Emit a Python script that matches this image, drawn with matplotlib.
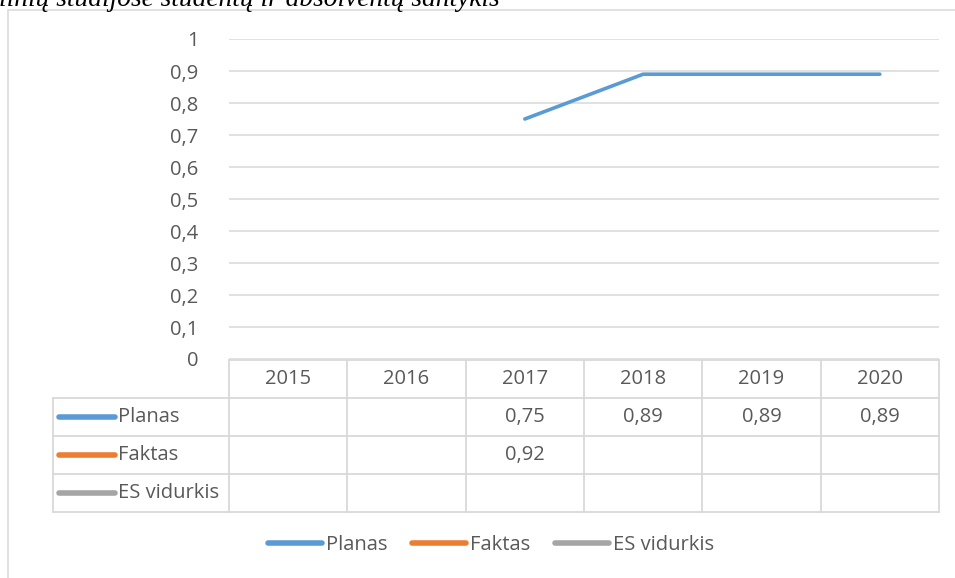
import matplotlib
matplotlib.use("Agg")
import matplotlib.pyplot as plt
import numpy as np
from matplotlib.lines import Line2D
from matplotlib.patches import Rectangle

# --- duomenys ---
years = ["2015", "2016", "2017", "2018", "2019", "2020"]
planas = [np.nan, np.nan, 0.75, 0.89, 0.89, 0.89]
faktas = [np.nan, np.nan, 0.92, np.nan, np.nan, np.nan]
es_vidurkis = [np.nan, np.nan, np.nan, np.nan, np.nan, np.nan]
series_names = ["Planas", "Faktas", "ES vidurkis"]
series_colors = ["#5B9BD5", "#ED7D31", "#A5A5A5"]
title_text = "linių studijose studentų ir absolventų santykis"

TXT = "#595959"
GRID = "#D9D9D9"
FS = 14.5
plt.rcParams['font.family'] = ['Open Sans', 'DejaVu Sans']

W, H = 955, 578
def fx(px): return px / W
def fy(py): return 1 - py / H

fig = plt.figure(figsize=(W / 100, H / 100), dpi=100)

# rėmelis aplink diagramą
fig.patches.append(Rectangle((fx(8), fy(700)), fx(1000), fy(10) - fy(700),
                             transform=fig.transFigure, fill=False,
                             edgecolor=GRID, lw=1.1))

# pavadinimas (viršus nukirptas, kaip originale)
fig.text(fx(-1), fy(6), title_text, family='Liberation Serif', style='italic',
         fontsize=19.7, ha='left', va='baseline', color='black')

# --- linijinė diagrama ---
ax = fig.add_axes([fx(229), fy(359), fx(939) - fx(229), fy(39) - fy(359)])
x = np.arange(len(years))
ax.set_xlim(-0.5, len(years) - 0.5)
ax.set_ylim(0, 1)
yt = np.round(np.arange(0, 1.01, 0.1), 1)
ax.set_yticks(yt)
ax.set_yticklabels([f"{v:g}".replace('.', ',') for v in yt], fontsize=FS, color=TXT)
ax.set_xticks([])
ax.tick_params(axis='y', length=0, pad=22)
ax.grid(axis='y', color=GRID, lw=1.1)
for s in ax.spines.values():
    s.set_visible(False)

for vals, c in zip([planas, faktas, es_vidurkis], series_colors):
    ax.plot(x, vals, color=c, lw=2.6, solid_capstyle='round')

# --- duomenų lentelė ---
tab = fig.add_axes([fx(229), fy(512), fx(939) - fx(229), fy(360) - fy(512)])
tab.set_xlim(-0.5, len(years) - 0.5)
tab.set_ylim(4, 0)
tab.axis('off')
col_w = (939 - 229) / len(years)
x_left = -0.5 - (229 - 53) / col_w

def px2x(px):
    return (px - 229) / col_w - 0.5

lk = dict(color=GRID, lw=1.3, clip_on=False)
tab.plot([-0.5, 5.5], [0, 0], **lk)
for r in range(1, 5):
    tab.plot([x_left, 5.5], [r, r], **lk)
for k in range(len(years) + 1):
    tab.plot([-0.5 + k, -0.5 + k], [0, 4], **lk)
tab.plot([x_left, x_left], [1, 4], **lk)

for i, y in enumerate(years):
    tab.text(i, 0.5, y, ha='center', va='center', fontsize=FS, color=TXT)

for r, (name, c, vals) in enumerate(zip(series_names, series_colors,
                                        [planas, faktas, es_vidurkis]), start=1):
    tab.plot([px2x(59), px2x(115)], [r + 0.5, r + 0.5], color=c, lw=4,
             solid_capstyle='round', clip_on=False)
    tab.text(px2x(118), r + 0.5, name, ha='left', va='center', fontsize=FS,
             color=TXT, clip_on=False)
    for i, v in enumerate(vals):
        if not np.isnan(v):
            tab.text(i, r + 0.5, f"{v:.2f}".replace('.', ','), ha='center',
                     va='center', fontsize=FS, color=TXT)

# --- legenda ---
handles = [Line2D([0], [0], color=c, lw=4, solid_capstyle='round') for c in series_colors]
leg = fig.legend(handles, series_names, loc='center', bbox_to_anchor=(fx(491), fy(545)),
                 ncol=3, frameon=False, fontsize=FS, handlelength=2.7,
                 handletextpad=0.2, columnspacing=1.2)
for t in leg.get_texts():
    t.set_color(TXT)

fig.savefig("out.png", dpi=100)
